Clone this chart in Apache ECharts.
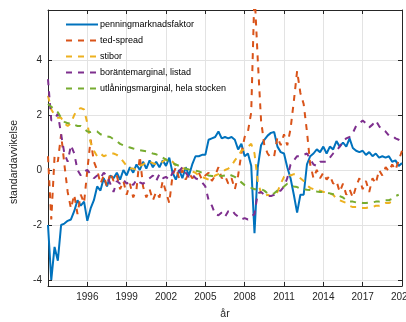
<!DOCTYPE html>
<html><head><meta charset="utf-8">
<script src="https://cdn.jsdelivr.net/npm/echarts@6/dist/echarts.min.js"></script>
<style>html,body{margin:0;padding:0;background:#fff}#c{width:406px;height:322px}</style>
</head><body><div id="c"></div>
<script>
// quarterly time grid 1993.00 ... 2020.00
const years = [];
for (let i = 0; i <= 108; i++) years.push(1993 + i * 0.25);

const xTicks = [1996, 1999, 2002, 2005, 2008, 2011, 2014, 2017, 2020];
const yTicks = [-4, -2, 0, 2, 4];

const names = ['penningmarknadsfaktor', 'ted-spread', 'stibor', 'boräntemarginal, listad', 'utlåningsmarginal, hela stocken'];

const pmf = [
 -2.0,-4.0,-2.8,-3.3, -2.0,-1.95,-1.85,-1.8, -1.5,-1.1,-1.3,-1.15, -1.85,-1.4,-1.1,-0.6,
 -0.75,-0.3,-0.6,-0.2, -0.3,-0.1,-0.35,0.0, -0.2,0.1,-0.1,0.2, 0.0,0.3,0.05,0.35,
 0.1,0.3,0.1,0.35, 0.15,0.45,-0.1,-0.35, 0.0,-0.3,0.1,-0.2, 0.2,0.5,0.5,0.55,
 0.55,1.1,1.15,1.2, 1.4,1.15,1.2,1.15, 1.2,1.1,0.75,0.95, 0.5,0.6,0.15,-2.3,
 0.1,0.9,1.1,1.25, 1.35,1.38,0.85,0.65, 0.6,0.1,-0.3,-0.9, -1.55,-0.9,-0.9,0.2,
 0.5,0.6,0.75,0.65, 0.85,0.6,0.85,0.75, 1.05,0.85,1.0,0.85, 1.15,0.8,0.7,0.65,
 0.7,0.55,0.65,0.5, 0.6,0.45,0.5,0.45, 0.5,0.3,0.35,0.15, 0.25
];
const ted = [
 0.5,-1.8,0.5,0.3, 1.3,0.2,-0.8,-1.4, -0.9,-1.6,-0.9,-1.2, 0.0,1.1,0.3,0.0,
 -0.5,-0.2,-0.6,-0.1, -0.4,-0.2,-0.7,-0.4, -0.9,-0.5,-1.0,-0.7, 0.5,-0.6,-1.0,-0.7,
 -1.1,-0.8,-1.0,-0.4, -0.8,-1.2,-0.2,0.1, -0.3,0.0,-0.35,-0.1, -0.3,-0.2,-0.1,-0.35,
 -0.2,-0.1,-0.4,-0.2, 0.1,-0.3,-0.2,-0.5, -0.3,-0.7,-0.2,0.6, 1.2,1.4,2.1,6.5,
 4.0,1.8,0.9,0.6, 0.45,0.5,1.2,0.9, 1.3,0.9,1.5,2.5, 3.6,2.8,2.4,1.4,
 0.2,-0.3,0.0,-0.3, -0.1,-0.35,-0.2,-0.5, -0.4,-0.8,-0.5,-0.9, -0.7,-1.0,-0.6,-0.3,
 -0.7,-0.4,-0.8,-0.3, -0.5,0.0,-0.2,0.1, -0.05,0.2,0.0,0.35, 0.7
];
const stibor = [
 2.7,2.2,2.0,1.9, 1.9,1.7,1.6,1.7, 2.0,2.2,2.25,2.2, 1.7,1.0,0.7,0.5,
 0.6,0.5,0.55,0.6, 0.6,0.55,0.45,0.3, 0.15,0.05,0.05,0.0, 0.15,0.2,0.3,0.3,
 0.25,0.2,0.25,0.3, 0.4,0.35,0.3,0.15, 0.1,0.05,0.05,0.0, -0.05,-0.1,-0.2,-0.25,
 -0.3,-0.35,-0.3,-0.2, -0.15,-0.1,0.0,0.05, 0.15,0.35,0.5,0.7, 0.75,0.85,0.95,0.6,
 -0.4,-0.85,-0.95,-0.9, -0.95,-0.9,-0.8,-0.5, -0.25,-0.15,-0.2,-0.15, -0.2,-0.3,-0.4,-0.55,
 -0.65,-0.7,-0.7,-0.75, -0.8,-0.8,-0.85,-0.9, -1.05,-1.1,-1.15,-1.2, -1.3,-1.35,-1.35,-1.38,
 -1.38,-1.38,-1.35,-1.35, -1.3,-1.3,-1.25,-1.2, -1.2,-1.15,null,null, null
];
const borant = [
 3.3,1.8,1.85,2.05, 1.3,0.6,0.3,0.9, 0.6,0.0,-0.2,-0.05, 0.0,-0.15,-0.3,-0.2,
 -0.3,-0.1,-0.2,-0.5, -0.8,-0.4,-0.5,-0.35, -0.5,-0.4,-0.55,-0.35, -0.45,-0.5,-0.4,-0.3,
 -0.2,-0.4,-0.15,-0.3, -0.25,-0.35,-0.1,0.05, -0.05,0.1,-0.1,-0.25, -0.15,-0.3,-0.35,-0.45,
 -0.6,-1.1,-1.3,-1.6, -1.65,-1.55,-1.7,-1.5, -1.45,-1.6,-1.7,-1.8, -1.75,-1.8,-1.7,-1.6,
 -0.85,-0.8,-0.9,-0.95, -0.95,-0.9,-0.8,-0.75, -0.6,-0.3,0.2,0.35, 0.5,0.5,0.55,0.6,
 0.4,0.2,0.15,0.3, 0.3,0.3,0.45,0.6, 0.7,0.85,1.05,1.15, 1.2,1.35,1.6,1.7,
 1.8,1.7,1.55,1.65, 1.8,1.6,1.45,1.4, 1.25,1.25,1.15,1.1, 1.0
];
const utlan = [
 2.4,2.3,2.2,2.1, 1.9,1.75,1.7,1.7, 1.65,1.6,1.6,1.5, 1.4,1.38,1.42,1.4,
 1.3,1.25,1.22,1.2, 1.12,1.05,0.95,0.9, 0.85,0.82,0.78,0.75, 0.72,0.7,0.68,0.64,
 0.6,0.57,0.52,0.45, 0.38,0.3,0.25,0.2, 0.15,0.1,0.05,0.02, 0.0,-0.02,-0.05,-0.1,
 -0.15,-0.2,-0.22,-0.22, -0.2,-0.22,-0.2,-0.15, -0.2,-0.25,-0.35,-0.45, -0.55,-0.6,-0.65,-0.7,
 -0.7,-0.7,-0.75,-0.85, -0.88,-0.85,-0.75,-0.7, -0.6,-0.5,-0.55,-0.6, -0.62,-0.68,-0.7,-0.72,
 -0.73,-0.75,-0.78,-0.8, -0.8,-0.82,-0.85,-0.88, -0.9,-0.95,-1.0,-1.1, -1.15,-1.15,-1.18,-1.18,
 -1.2,-1.2,-1.18,-1.18, -1.15,-1.15,-1.12,-1.1, -1.1,-1.05,-0.95,-0.9, null
];

const colors = ['#0072BD', '#D95319', '#EDB120', '#7E2F8E', '#77AC30'];
const seriesValues = [pmf, ted, stibor, borant, utlan];
const FONT = 'Liberation Sans';
const AX = '#262626';

function pairs(vals) { return years.map((y, i) => [y, vals[i]]); }

const series = seriesValues.map((vals, k) => ({
  name: names[k],
  type: 'line',
  data: pairs(vals),
  xAxisIndex: 0, yAxisIndex: 0,
  symbol: 'none',
  showSymbol: false,
  clip: true,
  connectNulls: false,
  lineStyle: { color: colors[k], width: 2, type: k === 0 ? 'solid' : [6, 6] },
  itemStyle: { color: colors[k] },
  z: 2 + k
}));

const axisLine = { show: true, onZero: false, lineStyle: { color: AX, width: 1 } };

const chart = echarts.init(document.getElementById('c'), null, { renderer: 'canvas' });
chart.setOption({
  animation: false,
  backgroundColor: '#fff',
  color: colors,
  grid: { left: 48, right: 4, top: 10, bottom: 36, containLabel: false, outerBoundsMode: 'none' },
  legend: {
    orient: 'vertical', left: 65, top: 20, padding: 0,
    itemWidth: 32, itemHeight: 10, itemGap: 7,
    itemStyle: { opacity: 0 },
    textStyle: { fontFamily: FONT, fontSize: 9, color: '#000', padding: [0, 0, 0, -3] },
    data: names
  },
  xAxis: [{
    type: 'value', min: 1993, max: 2020, position: 'bottom',
    name: 'år', nameLocation: 'middle', nameGap: 23,
    nameTextStyle: { fontFamily: FONT, fontSize: 10.5, color: AX },
    axisLine: axisLine,
    axisTick: { show: true, inside: true, length: 4, customValues: xTicks, lineStyle: { color: AX } },
    axisLabel: { customValues: xTicks, margin: 6, color: AX, fontFamily: FONT, fontSize: 10, formatter: v => String(v) },
    splitLine: { show: true, lineStyle: { color: '#e3e3e3', width: 1 } }
  }, {
    type: 'value', min: 1993, max: 2020, position: 'top',
    axisLine: axisLine,
    axisTick: { show: true, inside: true, length: 4, customValues: xTicks, lineStyle: { color: AX } },
    axisLabel: { show: false },
    splitLine: { show: false }
  }],
  yAxis: [{
    type: 'value', min: -4.22, max: 5.82, position: 'left',
    axisLine: axisLine,
    axisTick: { show: true, inside: true, length: 4, customValues: yTicks, lineStyle: { color: AX } },
    axisLabel: { customValues: yTicks, margin: 6, color: AX, fontFamily: FONT, fontSize: 10, formatter: v => String(v) },
    splitLine: { show: true, lineStyle: { color: '#e3e3e3', width: 1 } }
  }, {
    type: 'value', min: -4.22, max: 5.82, position: 'right',
    axisLine: axisLine,
    axisTick: { show: true, inside: true, length: 4, customValues: yTicks, lineStyle: { color: AX } },
    axisLabel: { show: false },
    splitLine: { show: false }
  }],
  graphic: [{
    type: 'text', left: 9, top: 120, rotation: Math.PI / 2,
    style: { text: 'standardavvikelse', fontFamily: FONT, fontSize: 10.5, fill: AX }
  }],
  series: series
});
</script></body></html>
